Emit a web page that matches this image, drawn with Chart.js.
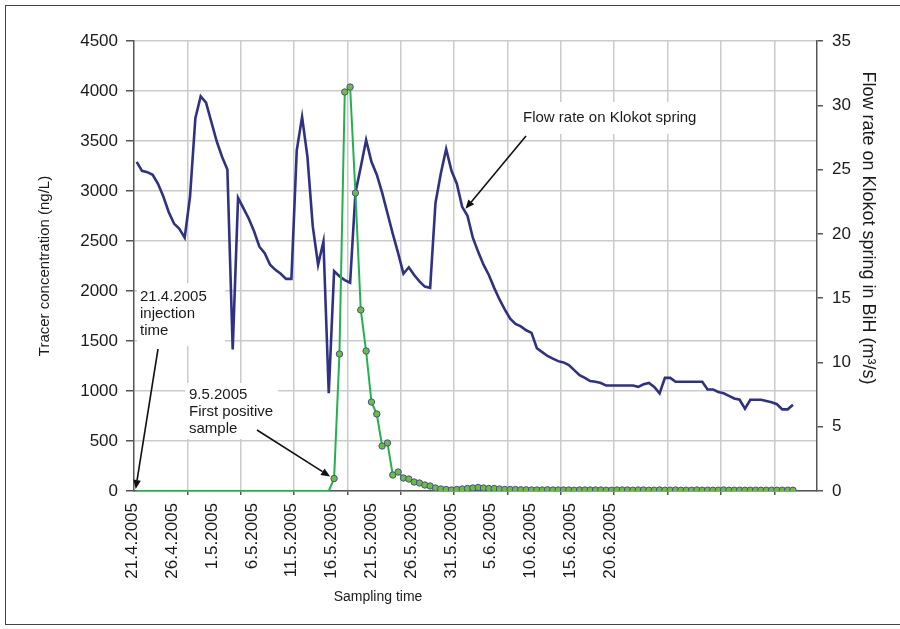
<!DOCTYPE html>
<html>
<head>
<meta charset="utf-8">
<script src="https://cdn.jsdelivr.net/npm/chart.js@4.4.1/dist/chart.umd.min.js"></script>
<style>
  html, body { margin: 0; padding: 0; background: #fff; }
  #wrap { position: relative; width: 900px; height: 629px; overflow: hidden; }
  #frame { position: absolute; left: 5px; top: 5px; width: 910px; height: 620px; border: 1px solid #444; box-sizing: border-box; pointer-events: none; }
  canvas { position: absolute; left: 0; top: 0; }
</style>
</head>
<body>
<div id="wrap">
  <canvas id="c" width="900" height="629"></canvas>
  <div id="frame"></div>
</div>
<script>
// ---- data (sample index along the category axis) ----
const dateLabels = ['21.4.2005','26.4.2005','1.5.2005','6.5.2005','11.5.2005','16.5.2005','21.5.2005',
                    '26.5.2005','31.5.2005','5.6.2005','10.6.2005','15.6.2005','20.6.2005'];
const labelPositions = [-0.8, 6.66, 14.12, 21.58, 29.04, 36.5, 43.96, 51.42, 58.88, 66.34, 73.8, 81.26, 88.72];
const gridPositions = [9.5, 19.5, 29.5, 39.5, 49.5, 59.5, 69.5, 79.5, 89.5, 99.5, 109.5, 119.5];

// Tracer concentration (ng/L)
const tracer = [
  0,0,0,0,0,0,0,0,0,0,
  0,0,0,0,0,0,0,0,0,0,
  0,0,0,0,0,0,0,0,0,0,
  0,0,0,0,0,0,0,
  125,1370,3990,4040,2980,1810,1400,890,770,450,
  480,160,190,130,120,90,80,60,50,30,
  20,15,10,15,20,25,30,35,30,25,
  25,20,15,15,15,
  12,12,10,10,10,12,10,10,10,10,
  8,10,10,10,10,10,8,8,10,10,
  10,8,10,10,8,8,10,8,8,10,
  8,8,8,10,8,8,8,8,10,8,
  8,8,8,8,8,8,8,8,8,8,
  8,8
];
// number of leading samples drawn without markers (before first positive sample)
const firstPositive = 37;

// Flow rate on Klokot spring (m3/s)
const flow = [
  25.6, 24.9, 24.8, 24.6, 23.9, 22.9, 21.7, 20.8, 20.4, 19.7,
  22.9, 29.0, 30.7, 30.2, 28.7, 27.2, 26.0, 25.0, 11.0, 22.8,
  22.0, 21.2, 20.2, 19.0, 18.5, 17.6, 17.2, 16.9, 16.5, 16.5,
  26.5, 29.1, 26.0, 20.6, 17.6, 19.4, 7.6, 17.1, 16.7, 16.4,
  16.2, 23.2, 25.2, 27.3, 25.6, 24.6, 23.2, 21.6, 20.0, 18.5,
  16.9, 17.4, 16.8, 16.3, 15.9, 15.8, 22.4, 24.7, 26.6, 24.9,
  23.9, 22.1, 21.4, 19.7, 18.6, 17.6, 16.8, 15.8, 14.9, 14.1,
  13.4, 13.0, 12.8, 12.5, 12.3, 11.1, 10.8, 10.5, 10.3, 10.1,
  10.0, 9.8, 9.4, 9.0, 8.8, 8.55, 8.5, 8.4, 8.2, 8.2,
  8.2, 8.2, 8.2, 8.2, 8.1, 8.3, 8.4, 8.1, 7.6, 8.8,
  8.8, 8.5, 8.5, 8.5, 8.5, 8.5, 8.5, 7.9, 7.9, 7.7,
  7.6, 7.4, 7.2, 7.1, 6.4, 7.1, 7.1, 7.1, 7.0, 6.9,
  6.75, 6.35, 6.35, 6.7
];

const FONT = "'Liberation Sans', Arial, sans-serif";
const TXT = '#1a1a1a';
const AXIS = '#555';
const GRID = '#cbcbcb';

function drawArrow(ctx, x1, y1, x2, y2) {
  const a = Math.atan2(y2 - y1, x2 - x1), L = 9, W = 3.8;
  const bx = x2 - L * Math.cos(a), by = y2 - L * Math.sin(a);
  ctx.save();
  ctx.strokeStyle = '#111'; ctx.fillStyle = '#111'; ctx.lineWidth = 1.6;
  ctx.beginPath(); ctx.moveTo(x1, y1); ctx.lineTo(bx, by); ctx.stroke();
  ctx.beginPath(); ctx.moveTo(x2, y2);
  ctx.lineTo(bx + W * Math.sin(a), by - W * Math.cos(a));
  ctx.lineTo(bx - W * Math.sin(a), by + W * Math.cos(a));
  ctx.closePath(); ctx.fill();
  ctx.restore();
}

const annotations = {
  id: 'annotations',
  beforeDatasetsDraw(chart) {
    const ctx = chart.ctx;
    ctx.save();
    ctx.fillStyle = '#fff';
    ctx.fillRect(137, 283, 88, 63);
    ctx.fillRect(185, 383, 93, 56);
    ctx.fillRect(515, 102, 192, 32);
    ctx.restore();
  },
  afterDatasetsDraw(chart) {
    const ctx = chart.ctx;
    const xs = chart.scales.x, ys = chart.scales.y, y2 = chart.scales.y2;
    ctx.save();
    ctx.fillStyle = TXT;
    ctx.font = '15px ' + FONT;
    ctx.textBaseline = 'middle';
    ctx.textAlign = 'left';
    ctx.fillText('21.4.2005', 140, 297);
    ctx.fillText('injection', 140, 314);
    ctx.fillText('time', 140, 331);
    ctx.fillText('9.5.2005', 189, 395);
    ctx.fillText('First positive', 189, 412);
    ctx.fillText('sample', 189, 429);
    ctx.fillText('Flow rate on Klokot spring', 523, 118);
    ctx.restore();
    // arrows, pointing at data positions
    drawArrow(ctx, 158, 349, xs.getPixelForValue(0) - 1, ys.getPixelForValue(0) - 2);
    const px = xs.getPixelForValue(firstPositive), py = ys.getPixelForValue(tracer[firstPositive]);
    drawArrow(ctx, 257, 430, px - 4, py - 2);
    const fx = xs.getPixelForValue(62), fy = y2.getPixelForValue(flow[62]);
    drawArrow(ctx, 526, 136, fx - 2, fy - 7);
  },
  afterDraw(chart) {
    const ctx = chart.ctx;
    ctx.save();
    ctx.fillStyle = TXT;
    ctx.textAlign = 'center';
    ctx.textBaseline = 'middle';
    ctx.font = '14px ' + FONT;
    ctx.fillText('Sampling time', 378, 597);
    ctx.translate(868, 228);
    ctx.rotate(Math.PI / 2);
    ctx.font = '18px ' + FONT;
    ctx.fillText('Flow rate on Klokot spring in BiH (m³/s)', 0, 0);
    ctx.restore();
  }
};

const tracerPts = tracer.map((v, i) => ({ x: i, y: v }));
const flowPts = flow.map((v, i) => ({ x: i, y: v }));

new Chart(document.getElementById('c'), {
  type: 'line',
  data: {
    datasets: [
      {
        label: 'Tracer concentration',
        data: tracerPts,
        yAxisID: 'y',
        borderColor: '#25b04e',
        borderWidth: 2,
        pointRadius: ctx => ctx.dataIndex < firstPositive ? 0 : 3.2,
        pointBackgroundColor: '#6cbf3a',
        pointBorderColor: '#4a4c9c',
        pointBorderWidth: 1,
        tension: 0
      },
      {
        label: 'Flow rate',
        data: flowPts,
        yAxisID: 'y2',
        borderColor: '#2f3184',
        borderWidth: 2.6,
        pointRadius: 0,
        tension: 0
      }
    ]
  },
  options: {
    responsive: false,
    animation: false,
    events: [],
    layout: { padding: { top: 41, left: 0, right: 0, bottom: 0 } },
    plugins: { legend: { display: false }, tooltip: { enabled: false } },
    scales: {
      x: {
        type: 'linear',
        min: -0.5, max: 127.5,
        bounds: 'data',
        afterBuildTicks: scale => {
          const t = [];
          gridPositions.forEach(v => t.push({ value: v, kind: 'grid' }));
          labelPositions.forEach((v, i) => t.push({ value: v, kind: 'label', text: dateLabels[i] }));
          t.sort((a, b) => a.value - b.value);
          scale.ticks = t;
        },
        afterFit: s => { s.height = 138; },
        ticks: {
          autoSkip: false, minRotation: 90, maxRotation: 90, padding: 8,
          color: TXT, font: { family: FONT, size: 17 },
          callback: (value, index, ticks) => ticks[index].kind === 'label' ? ticks[index].text : ''
        },
        grid: {
          color: c => (c.tick && c.tick.kind === 'grid') ? GRID : 'rgba(0,0,0,0)',
          tickColor: c => (c.tick && c.tick.kind === 'grid') ? AXIS : 'rgba(0,0,0,0)',
          lineWidth: 1.5, tickLength: 4
        },
        border: { color: AXIS, width: 1.5 }
      },
      y: {
        position: 'left',
        min: 0, max: 4500,
        afterFit: s => { s.width = 134; },
        ticks: { stepSize: 500, padding: 8, color: TXT, font: { family: FONT, size: 17 },
                 callback: v => String(v) },
        grid: { color: GRID, lineWidth: 1.5, tickLength: 8, tickColor: AXIS },
        border: { color: AXIS, width: 1.5 },
        title: { display: true, text: 'Tracer concentration (ng/L)', color: TXT,
                 font: { family: FONT, size: 15 }, padding: { top: 36, bottom: 0 } }
      },
      y2: {
        position: 'right',
        min: 0, max: 35,
        afterFit: s => { s.width = 83; },
        ticks: { stepSize: 5, padding: 9, color: TXT, font: { family: FONT, size: 17 },
                 callback: v => String(v) },
        grid: { drawOnChartArea: false, lineWidth: 1.5, tickLength: 6, tickColor: AXIS },
        border: { color: AXIS, width: 1.5 }
      }
    }
  },
  plugins: [annotations]
});
</script>
</body>
</html>
